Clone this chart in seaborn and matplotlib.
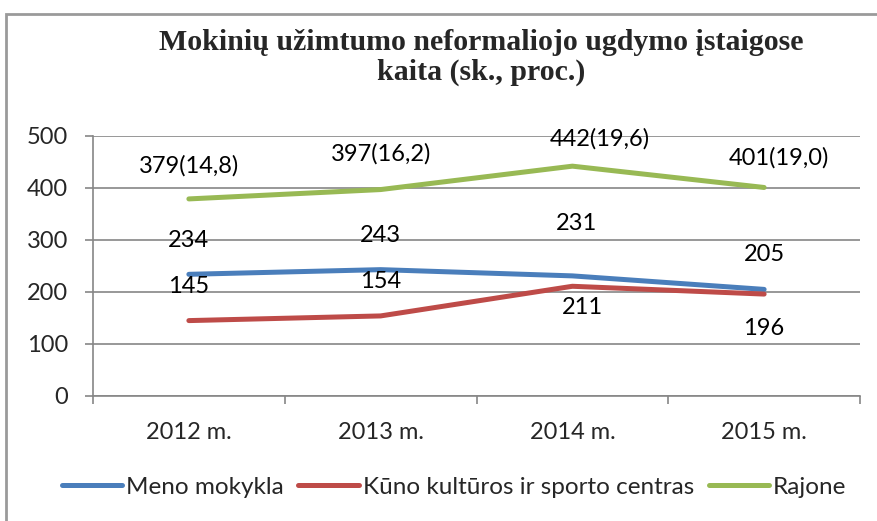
import matplotlib
matplotlib.use("Agg")
import matplotlib.pyplot as plt
import seaborn as sns
import pandas as pd
from matplotlib.patches import Rectangle

years = ["2012 m.", "2013 m.", "2014 m.", "2015 m."]
meno = [234, 243, 231, 205]
kuno = [145, 154, 211, 196]
rajone = [379, 397, 442, 401]
rajone_labels = ["379(14,8)", "397(16,2)", "442(19,6)", "401(19,0)"]
series_names = ["Meno mokykla", "Kūno kultūros ir sporto centras", "Rajone"]
title_lines = ["Mokinių užimtumo neformaliojo ugdymo įstaigose", "kaita (sk., proc.)"]

colors = ["#4A7EBB", "#BE4B48", "#98B954"]

rows = []
for name, vals in zip(series_names, [meno, kuno, rajone]):
    for i, v in enumerate(vals):
        rows.append({"x": i, "value": v, "series": name})
df = pd.DataFrame(rows)

sns.set_theme(style="white")
plt.rcParams["font.family"] = ["Lato", "DejaVu Sans"]

FS = 17
fig = plt.figure(figsize=(8.77, 5.21), dpi=100)
ax = fig.add_axes([93/877, 1-396/521, (860-93)/877, (396-136)/521])

sns.lineplot(data=df, x="x", y="value", hue="series", palette=colors,
             hue_order=series_names, linewidth=3.6, ax=ax, legend=True,
             solid_capstyle="round")

ax.set_xlim(-0.5, 3.5)
ax.set_ylim(0, 500)
ax.set_yticks([0, 100, 200, 300, 400, 500])
ax.yaxis.grid(True, color="#868686", linewidth=1.2)
ax.set_axisbelow(True)
ax.set_xticks([-0.5, 0.5, 1.5, 2.5, 3.5])
ax.set_xticklabels([])
ax.set_xticks([0, 1, 2, 3], minor=True)
ax.set_xticklabels(years, minor=True, fontsize=FS)
ax.tick_params(axis="x", which="major", length=6, width=1.2, color="#868686", direction="out", bottom=True)
ax.tick_params(axis="x", which="minor", length=0, pad=19)
ax.tick_params(axis="y", length=6, width=1.2, color="#868686", direction="out", left=True, labelsize=FS, pad=12)
for s in ["top", "right"]:
    ax.spines[s].set_visible(False)
for s in ["left", "bottom"]:
    ax.spines[s].set_color("#868686")
    ax.spines[s].set_linewidth(1.2)
ax.set_xlabel("")
ax.set_ylabel("")

# data label offsets in points (dx, dy)
meno_off = [(0, 24), (0, 24.5), (3, 38), (0, 25)]
kuno_off = [(0, 24.5), (0, 25), (7, -15), (0, -24.5)]
raj_off = [(0, 24), (0, 26), (20, 20), (11, 21.6)]
for i in range(4):
    ax.annotate(str(meno[i]), (i, meno[i]), xytext=meno_off[i], textcoords="offset points",
                ha="center", va="center", fontsize=FS, color="black")
    ax.annotate(str(kuno[i]), (i, kuno[i]), xytext=kuno_off[i], textcoords="offset points",
                ha="center", va="center", fontsize=FS, color="black")
    ax.annotate(rajone_labels[i], (i, rajone[i]), xytext=raj_off[i], textcoords="offset points",
                ha="center", va="center", fontsize=FS, color="black")

for line, ybase in zip(title_lines, [50, 80]):
    fig.text(481/877, 1-ybase/521, line, ha="center", va="baseline", fontsize=21.5,
             fontweight="bold", family="Liberation Serif")

ax.get_legend().remove()
handles = ax.get_lines()[:3]
leg = fig.legend(handles, series_names, loc="center", bbox_to_anchor=(454/877, 1-487/521),
                 ncol=3, frameon=False, fontsize=17.5, handlelength=2.5, handletextpad=0.15,
                 columnspacing=0.6)

fig.patches.append(Rectangle((5.5/877, -0.1), 1.2, 1-14/521+0.1, transform=fig.transFigure,
                             fill=False, edgecolor="#9a9a9a", linewidth=2, figure=fig))

fig.savefig("out.png", dpi=100)
